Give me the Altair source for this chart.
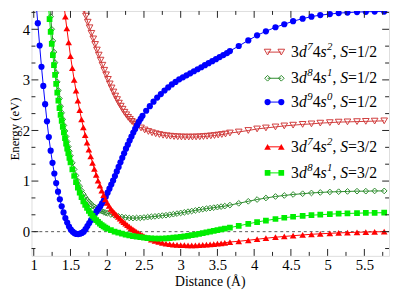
import altair as alt
import pandas as pd

F = "Liberation Serif"
FRAME = "#222222"

# ---------------- data ----------------
series = ["3d7 4s2 S=1/2", "3d8 4s1 S=1/2", "3d9 4s0 S=1/2", "3d7 4s2 S=3/2", "3d8 4s1 S=3/2"]
d_occ = [7, 8, 9, 7, 8]
s_occ = [2, 1, 0, 2, 1]
spin = ["1/2", "1/2", "1/2", "3/2", "3/2"]

sparse_x = [3.67, 3.79, 3.92, 4.04, 4.16, 4.29, 4.41, 4.53, 4.66, 4.78, 4.90, 5.03, 5.15, 5.27, 5.40, 5.52, 5.64, 5.77]

# 3d7 4s2, S=1/2 (open down triangles)
A_x = [1.66, 1.685, 1.71, 1.735, 1.76, 1.785, 1.81, 1.835, 1.86, 1.885, 1.91, 1.935, 1.96, 1.985, 2.01, 2.035,
       2.06, 2.085, 2.11, 2.135, 2.16, 2.185, 2.21, 2.235, 2.26, 2.285, 2.31, 2.335, 2.36, 2.385, 2.41,
       2.46, 2.51, 2.56, 2.61, 2.66, 2.71, 2.76, 2.81, 2.86, 2.91, 2.96, 3.01, 3.06, 3.11, 3.16, 3.21, 3.26,
       3.31, 3.36, 3.41, 3.46, 3.51, 3.56, 3.61] + sparse_x
A_y = [4.50, 4.38, 4.26, 4.14, 4.03, 3.92, 3.81, 3.70, 3.59, 3.49, 3.39, 3.29, 3.19, 3.10, 3.01, 2.92,
       2.84, 2.76, 2.68, 2.61, 2.54, 2.48, 2.42, 2.36, 2.31, 2.26, 2.22, 2.18, 2.15, 2.12, 2.09,
       2.05, 2.01, 1.98, 1.955, 1.935, 1.92, 1.905, 1.895, 1.887, 1.88, 1.875, 1.872, 1.87, 1.87, 1.87, 1.872,
       1.875, 1.88, 1.886, 1.893, 1.90, 1.91, 1.92, 1.93,
       1.95, 1.97, 2.00, 2.03, 2.05, 2.07, 2.09, 2.105, 2.12, 2.13, 2.145, 2.155, 2.165, 2.17, 2.175, 2.18, 2.185, 2.19]

# 3d8 4s1, S=1/2 (open diamonds)
B_x = [1.215, 1.23, 1.245, 1.26, 1.275, 1.29, 1.305, 1.32, 1.335, 1.35, 1.365, 1.38, 1.395, 1.41, 1.425, 1.44,
       1.455, 1.47, 1.485, 1.50,
       1.525, 1.55, 1.575, 1.60, 1.625, 1.65, 1.675, 1.70, 1.725, 1.75, 1.775, 1.80, 1.825, 1.85, 1.875, 1.90,
       1.925, 1.95, 1.975, 2.00,
       2.05, 2.10, 2.15, 2.20, 2.25, 2.30, 2.35, 2.40, 2.45, 2.50, 2.55, 2.60, 2.65, 2.70, 2.75, 2.80, 2.85,
       2.90, 2.95, 3.00, 3.05, 3.10, 3.15, 3.20, 3.25, 3.30, 3.35, 3.40, 3.45, 3.50, 3.55, 3.60] + sparse_x
B_y = [4.50, 4.25, 4.00, 3.77, 3.55, 3.34, 3.14, 2.96, 2.79, 2.63, 2.48, 2.35, 2.22, 2.10, 1.99, 1.88,
       1.78, 1.68, 1.59, 1.50,
       1.36, 1.23, 1.11, 1.00, 0.90, 0.81, 0.74, 0.68, 0.63, 0.59, 0.55, 0.515, 0.49, 0.465, 0.44, 0.42,
       0.405, 0.39, 0.375, 0.365,
       0.34, 0.32, 0.305, 0.29, 0.28, 0.27, 0.268, 0.27, 0.273, 0.28, 0.287, 0.295, 0.302, 0.31, 0.317, 0.325,
       0.335, 0.345, 0.357, 0.37, 0.382, 0.395, 0.407, 0.42, 0.432, 0.445, 0.455, 0.465, 0.475, 0.485, 0.495, 0.505,
       0.525, 0.56, 0.60, 0.635, 0.665, 0.695, 0.715, 0.735, 0.75, 0.765, 0.775, 0.785, 0.79, 0.795, 0.80, 0.80,
       0.805, 0.805]

# 3d9 4s0, S=1/2 (filled circles)
C_x = [1.03, 1.055, 1.08, 1.105, 1.13, 1.155, 1.18, 1.205, 1.23, 1.255, 1.28, 1.305, 1.33, 1.355, 1.38, 1.405,
       1.43, 1.455, 1.48, 1.505, 1.53, 1.555, 1.58, 1.605, 1.63, 1.655, 1.68, 1.705, 1.73, 1.755, 1.78, 1.805,
       1.83, 1.855, 1.88, 1.905, 1.93, 1.955, 1.98, 2.005, 2.03, 2.055, 2.08, 2.105, 2.13, 2.155, 2.18, 2.205,
       2.23, 2.255, 2.28, 2.305, 2.33, 2.355, 2.38, 2.405, 2.43, 2.455, 2.48,
       2.53, 2.58, 2.63, 2.68, 2.73, 2.78, 2.83, 2.88, 2.93, 2.98, 3.03, 3.08, 3.13, 3.18, 3.23, 3.28, 3.33,
       3.38, 3.43, 3.48, 3.53, 3.58, 3.63] + sparse_x
C_y = [4.55, 4.12, 3.68, 3.26, 2.88, 2.52, 2.18, 1.87, 1.60, 1.36, 1.15, 0.96, 0.79, 0.64, 0.50, 0.38,
       0.27, 0.18, 0.10, 0.04, 0.0, -0.03, -0.045, -0.048, -0.04, -0.025, 0.0, 0.05, 0.11, 0.17, 0.23, 0.29,
       0.35, 0.40, 0.45, 0.50, 0.56, 0.62, 0.69, 0.77, 0.85, 0.93, 1.01, 1.10, 1.19, 1.28, 1.37, 1.46,
       1.55, 1.64, 1.72, 1.80, 1.88, 1.96, 2.03, 2.10, 2.17, 2.23, 2.29,
       2.39, 2.48, 2.57, 2.65, 2.72, 2.79, 2.85, 2.91, 2.96, 3.01, 3.05, 3.09, 3.13, 3.17, 3.21, 3.25, 3.29,
       3.33, 3.37, 3.41, 3.45, 3.49, 3.53,
       3.57, 3.67, 3.78, 3.88, 3.96, 4.04, 4.10, 4.16, 4.21, 4.25, 4.28, 4.30, 4.32, 4.33, 4.34, 4.345, 4.35, 4.35]

# 3d7 4s2, S=3/2 (filled up triangles)
D_x = [1.41, 1.43, 1.45, 1.475, 1.50, 1.525, 1.55, 1.575, 1.60, 1.625, 1.65, 1.675, 1.70, 1.725, 1.75, 1.775,
       1.80, 1.825, 1.85, 1.875, 1.90, 1.925, 1.95, 1.975, 2.00, 2.025, 2.05, 2.075, 2.10, 2.125, 2.15, 2.175,
       2.20, 2.225, 2.25, 2.275, 2.30, 2.325, 2.35, 2.375, 2.40, 2.425, 2.45, 2.475, 2.50,
       2.55, 2.60, 2.65, 2.70, 2.75, 2.80, 2.85, 2.90, 2.95, 3.00, 3.05, 3.10, 3.15, 3.20, 3.25, 3.30, 3.35,
       3.40, 3.45, 3.50, 3.55, 3.60] + sparse_x
D_y = [4.50, 4.25, 4.02, 3.74, 3.47, 3.23, 3.00, 2.79, 2.59, 2.40, 2.22, 2.06, 1.91, 1.76, 1.62, 1.49,
       1.36, 1.24, 1.12, 1.01, 0.91, 0.81, 0.72, 0.64, 0.57, 0.51, 0.45, 0.41, 0.37, 0.33, 0.29, 0.26,
       0.22, 0.19, 0.16, 0.13, 0.10, 0.07, 0.045, 0.02, -0.005, -0.03, -0.05, -0.07, -0.09,
       -0.125, -0.155, -0.18, -0.20, -0.22, -0.235, -0.245, -0.255, -0.26, -0.265, -0.268, -0.27, -0.27, -0.27,
       -0.267, -0.263, -0.258, -0.252, -0.245, -0.238, -0.23, -0.22,
       -0.205, -0.19, -0.17, -0.15, -0.13, -0.11, -0.095, -0.08, -0.065, -0.052, -0.042, -0.033, -0.025, -0.018,
       -0.012, -0.008, -0.004, 0.0]

# 3d8 4s1, S=3/2 (filled squares)
E_x = [1.20, 1.215, 1.23, 1.245, 1.26, 1.275, 1.29, 1.305, 1.32, 1.335, 1.35, 1.365, 1.38, 1.395, 1.41, 1.425,
       1.44, 1.455, 1.47, 1.485, 1.50,
       1.525, 1.55, 1.575, 1.60, 1.625, 1.65, 1.675, 1.70, 1.725, 1.75, 1.775, 1.80, 1.825, 1.85, 1.875, 1.90,
       1.925, 1.95, 1.975, 2.00,
       2.05, 2.10, 2.15, 2.20, 2.25, 2.30, 2.35, 2.40, 2.45, 2.50, 2.55, 2.60, 2.65, 2.70, 2.75, 2.80, 2.85,
       2.90, 2.95, 3.00, 3.05, 3.10, 3.15, 3.20, 3.25, 3.30, 3.35, 3.40, 3.45, 3.50, 3.55, 3.60] + sparse_x
E_y = [4.45, 4.20, 3.95, 3.71, 3.49, 3.29, 3.10, 2.92, 2.75, 2.59, 2.44, 2.31, 2.19, 2.07, 1.96, 1.85,
       1.74, 1.64, 1.55, 1.46, 1.37,
       1.23, 1.10, 0.98, 0.87, 0.77, 0.68, 0.60, 0.53, 0.47, 0.41, 0.36, 0.31, 0.27, 0.23, 0.195, 0.16,
       0.13, 0.105, 0.08, 0.06,
       0.03, 0.0, -0.02, -0.04, -0.06, -0.075, -0.09, -0.10, -0.11, -0.12, -0.127, -0.132, -0.135, -0.136,
       -0.135, -0.132, -0.127, -0.12, -0.112, -0.103, -0.093, -0.082, -0.07, -0.057, -0.043, -0.029, -0.015,
       0.0, 0.015, 0.03, 0.045, 0.06,
       0.08, 0.115, 0.155, 0.19, 0.22, 0.25, 0.275, 0.295, 0.31, 0.325, 0.335, 0.345, 0.355, 0.36, 0.365, 0.37,
       0.372, 0.375]

data_x = [A_x, B_x, C_x, D_x, E_x]
data_y = [A_y, B_y, C_y, D_y, E_y]

x_major = [1, 1.5, 2, 2.5, 3, 3.5, 4, 4.5, 5, 5.5]
x_minor = [1.25, 1.75, 2.25, 2.75, 3.25, 3.75, 4.25, 4.75, 5.25, 5.75]
y_major = [0, 1, 2, 3, 4]
y_minor = [-1 / 3, 1 / 3, 2 / 3, 4 / 3, 5 / 3, 7 / 3, 8 / 3, 10 / 3, 11 / 3, 13 / 3]

# ---------------- styles / geometry ----------------
colors = ["#d03a3a", "#2b8a2b", "#0000ff", "#ff0000", "#00ee00"]
shapes = ["triangle-down", "diamond", "circle", "triangle-up", "square"]
filled = [False, False, True, True, True]
sizes = [46, 34, 40, 46, 34]

PX_PER_X = 75.0      # pixels per Angstrom
PX_PER_Y = 51.65     # pixels per eV
PAD_LEFT = 24
W, H = 365, 250
XMIN = 1 - (34.3 - 8 - PAD_LEFT) / PX_PER_X
XMAX = XMIN + W / PX_PER_X
YMAX = 4 + 18.7 / PX_PER_Y
YMIN = YMAX - H / PX_PER_Y

xs = alt.Scale(domain=[XMIN, XMAX], nice=False, zero=False)
ys = alt.Scale(domain=[YMIN, YMAX], nice=False, zero=False)

xax = alt.Axis(title="Distance (Å)", values=x_major, format="~g", ticks=False, tickSize=0, domain=False,
               grid=False, labelFont=F, labelFontSize=15, labelColor="black", labelPadding=2,
               titleFont=F, titleFontSize=14, titleFontWeight="normal", titleColor="black",
               titleX=182, titleY=30, titleAlign="center", titleBaseline="alphabetic")
yax = alt.Axis(title="Energy (eV)", values=y_major, format="d", ticks=False, tickSize=0, domain=False,
               grid=False, labelFont=F, labelFontSize=15, labelColor="black", labelPadding=2,
               titleFont=F, titleFontSize=13, titleFontWeight="normal", titleColor="black",
               titleX=-17.5, titleY=120, titleAngle=270, titleAlign="center", titleBaseline="middle")


def X():
    return alt.X("x:Q", scale=xs, axis=xax)


def Y():
    return alt.Y("y:Q", scale=ys, axis=yax)


layers = []

# dashed zero line
layers.append(alt.Chart(pd.DataFrame({"y": [0.0]})).mark_rule(
    color="#555555", strokeWidth=1, strokeDash=[3, 3]).encode(y=Y()))

# series
for i in range(5):
    df = pd.DataFrame({"x": data_x[i], "y": data_y[i]})
    layers.append(alt.Chart(df).mark_line(color=colors[i], strokeWidth=1, clip=True).encode(x=X(), y=Y()))
    layers.append(alt.Chart(df).mark_point(shape=shapes[i], filled=filled[i], color=colors[i], size=sizes[i],
                                           strokeWidth=1, opacity=1, clip=True).encode(x=X(), y=Y()))


# inward tick marks on all four sides
def xticks(vals, length):
    df = pd.DataFrame({"x": vals})
    bot = alt.Chart(df).mark_rule(color=FRAME, strokeWidth=1).encode(
        x=X(), y=alt.value(H), y2=alt.value(H - length))
    top = alt.Chart(df).mark_rule(color=FRAME, strokeWidth=1).encode(
        x=X(), y=alt.value(0), y2=alt.value(length))
    return [bot, top]


def yticks(vals, length):
    df = pd.DataFrame({"y": vals})
    left = alt.Chart(df).mark_rule(color=FRAME, strokeWidth=1).encode(
        y=Y(), x=alt.value(0), x2=alt.value(length))
    right = alt.Chart(df).mark_rule(color=FRAME, strokeWidth=1).encode(
        y=Y(), x=alt.value(W), x2=alt.value(W - length))
    return [left, right]


layers += xticks(x_major, 7) + xticks(x_minor, 4) + yticks(y_major, 7) + yticks(y_minor, 4)


# ---------------- legend (inside plot, built from marks) ----------------
def px2x(px):
    return 1 + (px - 34.3) / PX_PER_X


def py2y(py):
    return (233.3 - py) / PX_PER_Y


row_py = [50, 76.7, 101, 146.7, 173.3]
sym_px = [273, 287]
text_px = 297
FS, SUP = 16, 11

pieces = []
for i in range(5):
    yv = py2y(row_py[i])
    sdf = pd.DataFrame({"x": [px2x(p) for p in sym_px], "y": [yv, yv]})
    layers.append(alt.Chart(sdf).mark_line(color=colors[i], strokeWidth=1).encode(x=X(), y=Y()))
    layers.append(alt.Chart(sdf).mark_point(shape=shapes[i], filled=filled[i], color=colors[i], size=sizes[i],
                                            strokeWidth=1, opacity=1).encode(x=X(), y=Y()))
    cur = text_px
    seq = [("3", "reg", 0.5 * FS), ("d", "ital", 0.5 * FS + 0.5), (str(d_occ[i]), "sup", 0.5 * SUP),
           ("4", "reg", 0.5 * FS), ("s", "ital", 0.389 * FS + 0.5), (str(s_occ[i]), "sup", 0.5 * SUP),
           (",", "reg", 0.5 * FS), ("S", "ital", 0.5 * FS), ("=" + spin[i], "reg", 0)]
    for t, k, w in seq:
        pieces.append({"x": px2x(cur), "y": yv, "t": t, "k": k})
        cur += w

pdf = pd.DataFrame(pieces)
for k, style, size, dy in [("reg", "normal", FS, 5.3), ("ital", "italic", FS, 5.3), ("sup", "italic", SUP, -1.8)]:
    layers.append(alt.Chart(pdf[pdf.k == k]).mark_text(
        align="left", baseline="alphabetic", font=F, fontSize=size, fontStyle=style, color="black", dy=dy
    ).encode(x=X(), y=Y(), text="t:N"))

chart = alt.layer(*layers).properties(
    width=W, height=H,
    autosize=alt.AutoSizeParams(type="none"),
    padding={"left": PAD_LEFT, "top": 0, "right": 2, "bottom": 40},
).configure_view(
    stroke=FRAME, strokeWidth=1
).configure_axis(
    labelFont=F, titleFont=F, labelFontSize=15, titleFontWeight="normal"
).configure_text(font=F).configure(font=F)

chart.save("out.html", embed_options={"renderer": "svg", "actions": False})
